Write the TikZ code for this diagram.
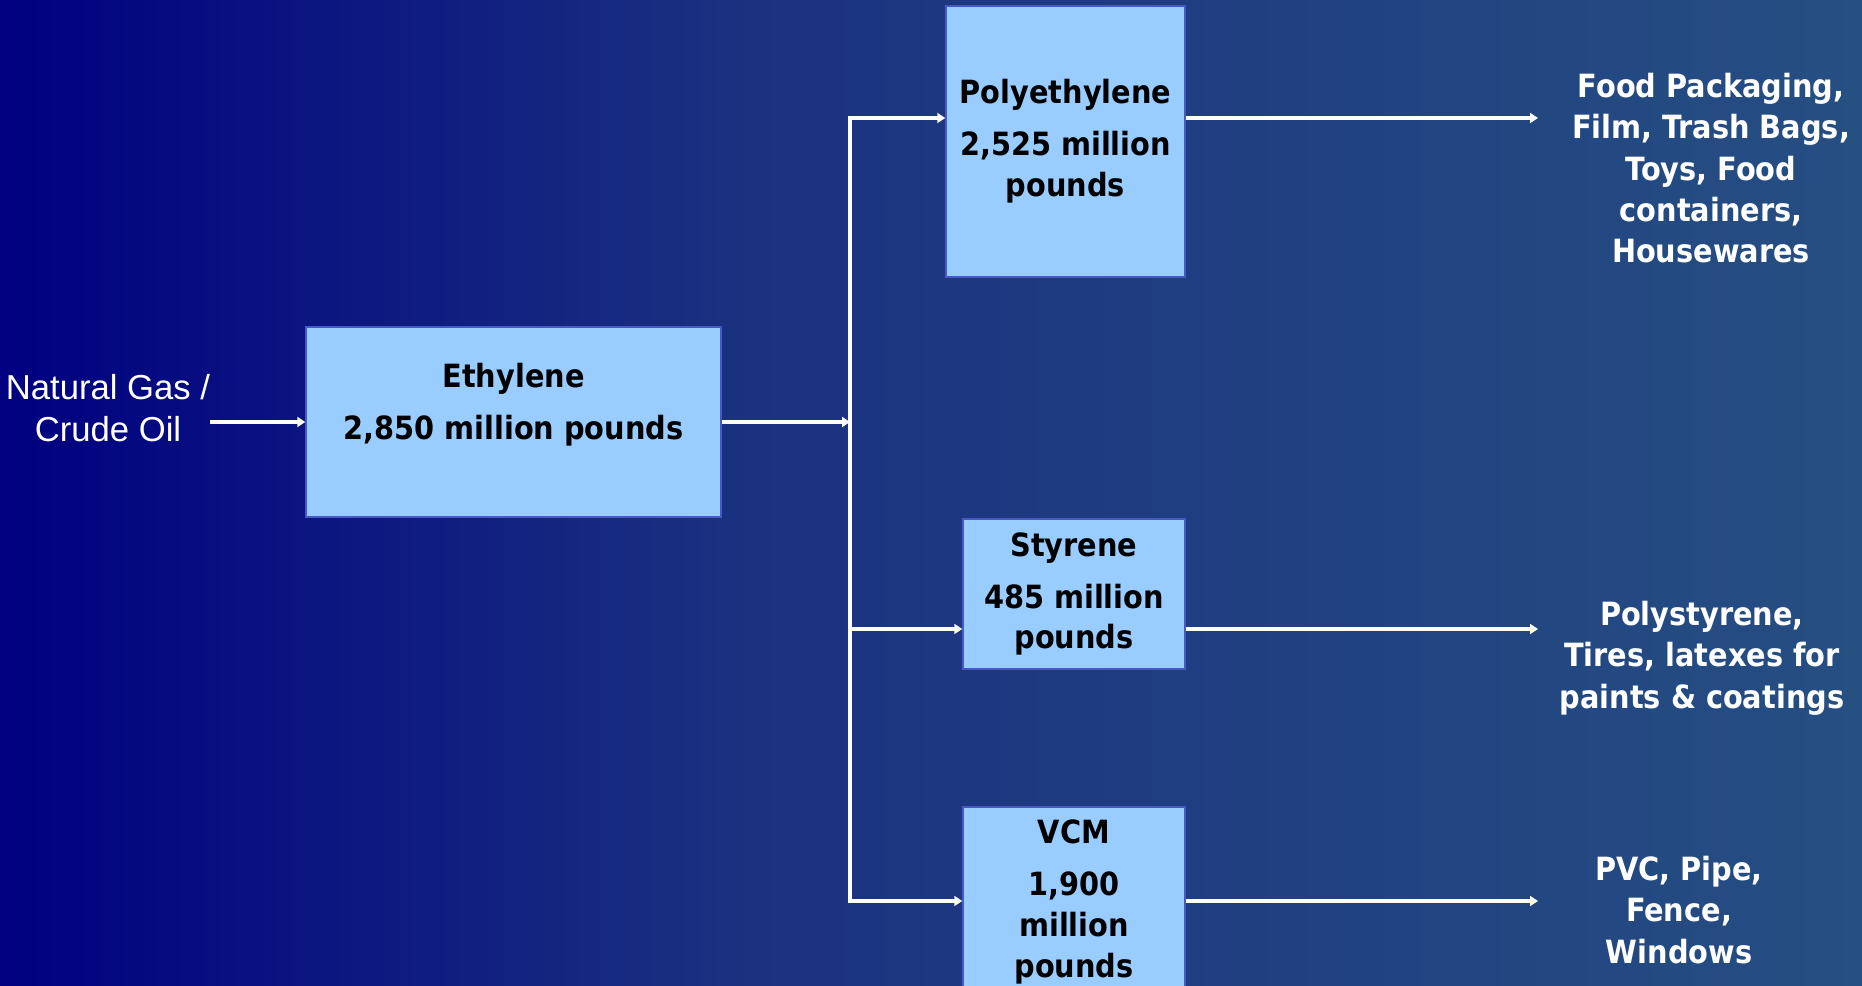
\documentclass[tikz,border=0pt]{standalone}
\usepackage{fontspec}
\usetikzlibrary{arrows.meta,positioning}
\newfontfamily\condfont{DejaVu Sans Condensed Bold}
\newfontfamily\arialfont{Liberation Sans}
\definecolor{navyleft}{RGB}{0,0,128}
\definecolor{navymid}{RGB}{27,50,128}
\definecolor{navyright}{RGB}{38,79,130}
\definecolor{boxfill}{RGB}{153,204,255}
\definecolor{boxline}{RGB}{72,88,196}

\begin{document}
\begin{tikzpicture}[x=0.75pt, y=-0.75pt,
    flowtip/.tip = {Triangle[length=6pt, width=7.5pt]},
    flow/.style = {draw=white, line width=2.6pt, -flowtip},
    box/.style = {draw=boxline, line width=1.1pt, fill=boxfill, inner sep=0pt, align=center, font=\condfont\fontsize{24}{30.5}\selectfont},
    outtext/.style = {text=white, anchor=north, inner sep=0pt, align=center, font=\condfont\fontsize{24}{31}\selectfont},
    srctext/.style = {text=white, anchor=north, inner sep=0pt, align=center, font=\arialfont\fontsize{26}{31.5}\selectfont}]
    % sfondo sfumato
    \clip (0,0) rectangle (1862,985);
    \shade[left color=navyleft, right color=navymid] (0,0) rectangle (751,985);
    \shade[left color=navymid, right color=navyright] (750,0) rectangle (1862,985);

    % blocchi
    \node[srctext] (src) at (108,374) {Natural Gas /\\Crude Oil};
    \node[box, minimum width=311.25pt, minimum height=142.5pt] (eth) at (513.5,422) {Ethylene\\[8.5pt]2,850 million pounds\\ \mbox{}};
    \node[box, minimum width=179.25pt, minimum height=203.25pt] (poly) at (1065.5,141.5) {Polyethylene\\[8.5pt]2,525 million\\pounds};
    \node[box, minimum width=166.5pt, minimum height=112.5pt] (sty) at (1074,594) {Styrene\\[8.5pt]485 million\\pounds};
    \node[box, minimum width=166.5pt, minimum height=142.5pt] (vcm) at (1074,902) {VCM\\[8.5pt]1,900\\million\\pounds};

    % prodotti finali
    \node[outtext] (food) at (1711,73) {Food Packaging,\\Film, Trash Bags,\\Toys, Food\\containers,\\Housewares};
    \node[outtext] (pstyr) at (1702,601) {Polystyrene,\\Tires, latexes for\\paints \& coatings};
    \node[outtext] (pvc) at (1679,856) {PVC, Pipe,\\Fence,\\Windows};

    % diramazioni
    \coordinate (jA) at (850,118);
    \coordinate (jB) at (850,629);
    \coordinate (jC) at (850,901);
    \coordinate (outx) at (1538,0);

    \draw[flow] (src.east |- eth.west) -- (eth.west);
    \draw[flow] (eth.east) -- (eth.east -| jA);
    \draw[flow, flowtip-flowtip] (jA -| poly.west) -- (jA) -- (jC) -- (jC -| vcm.west);
    \draw[flow] (jB) -- (jB -| sty.west);
    \draw[flow] (jA -| poly.east) -- (jA -| outx);
    \draw[flow] (jB -| sty.east) -- (jB -| outx);
    \draw[flow] (jC -| vcm.east) -- (jC -| outx);
\end{tikzpicture}
\end{document}
